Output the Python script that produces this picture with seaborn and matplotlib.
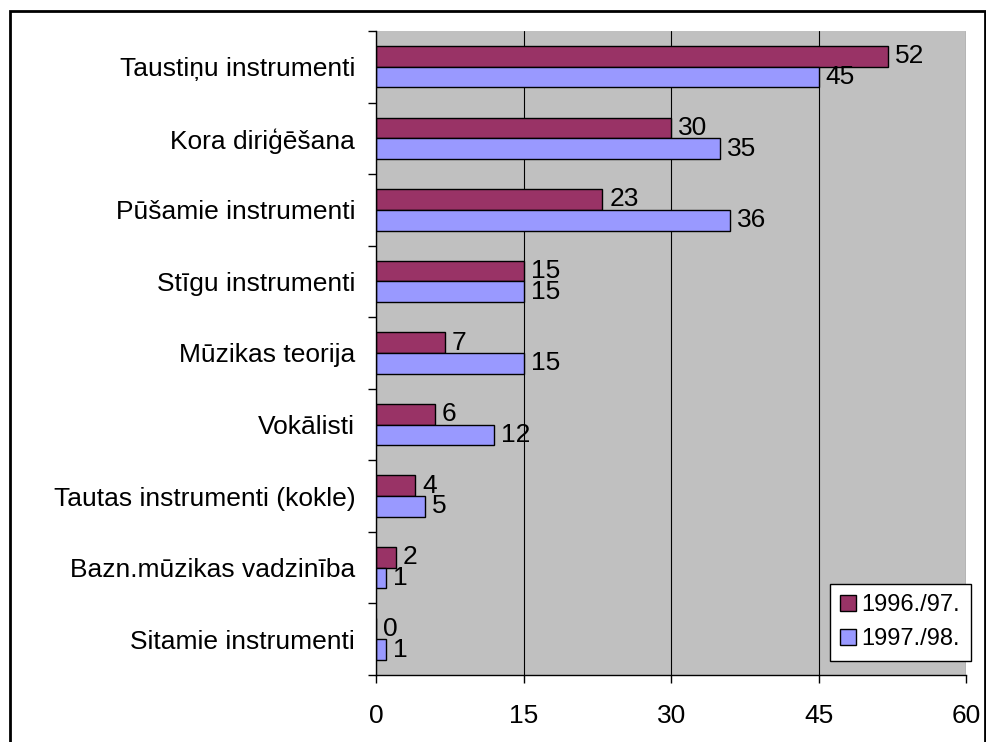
import pandas as pd
import matplotlib.pyplot as plt
import seaborn as sns
from matplotlib.patches import Rectangle
from matplotlib.ticker import FixedLocator

categories = [
    "Taustiņu instrumenti",
    "Kora diriģēšana",
    "Pūšamie instrumenti",
    "Stīgu instrumenti",
    "Mūzikas teorija",
    "Vokālisti",
    "Tautas instrumenti (kokle)",
    "Bazn.mūzikas vadzinība",
    "Sitamie instrumenti",
]
years = ["1996./97.", "1997./98."]
vals_9697 = [52, 30, 23, 15, 7, 6, 4, 2, 0]
vals_9798 = [45, 35, 36, 15, 15, 12, 5, 1, 1]
x_ticks = [0, 15, 30, 45, 60]

df = pd.DataFrame({
    "Category": categories * 2,
    "Year": [years[0]] * len(categories) + [years[1]] * len(categories),
    "Count": vals_9697 + vals_9798,
})

sns.set_style("white")
plt.rcParams["font.family"] = ["Liberation Sans", "DejaVu Sans"]
plt.rcParams["text.color"] = "black"
plt.rcParams["xtick.color"] = "black"
plt.rcParams["ytick.color"] = "black"

fig = plt.figure(figsize=(9.87, 7.42), dpi=100)
ax = fig.add_axes([0.381, 0.0903, 0.598, 0.868])
ax.set_facecolor("#C0C0C0")

sns.barplot(
    data=df, y="Category", x="Count", hue="Year", orient="h",
    palette=["#993366", "#9999FF"], saturation=1, edgecolor="black",
    linewidth=1, width=0.58, ax=ax, legend=True,
)

for cont in ax.containers:
    ax.bar_label(cont, fontsize=19, padding=5)

ax.set_xlim(0, 60)
ax.set_ylim(len(categories) - 0.5, -0.5)
ax.set_xticks(x_ticks)
ax.xaxis.grid(True, color="black", linewidth=0.8)
ax.set_axisbelow(True)
ax.tick_params(axis="x", direction="out", length=6, width=1, color="black",
               pad=15, labelsize=19, bottom=True)

# tick marks between categories, labels in the middle
ax.yaxis.set_major_locator(FixedLocator([i - 0.5 for i in range(len(categories) + 1)]))
ax.yaxis.set_minor_locator(FixedLocator(list(range(len(categories)))))
ax.set_yticklabels([], minor=False)
ax.set_yticklabels(categories, minor=True)
ax.tick_params(axis="y", which="major", direction="out", length=6, width=1,
               color="black", left=True)
ax.tick_params(axis="y", which="minor", length=0, pad=15, labelsize=19, left=True)

ax.set_xlabel("")
ax.set_ylabel("")
for side in ["top", "right"]:
    ax.spines[side].set_visible(False)
for side in ["left", "bottom"]:
    ax.spines[side].set_color("black")
    ax.spines[side].set_linewidth(1)

leg = ax.legend(loc="lower right", bbox_to_anchor=(1.008, 0.022), fontsize=17,
                frameon=True, fancybox=False, edgecolor="black", framealpha=1,
                handlelength=0.65, handleheight=0.65, handletextpad=0.25,
                borderpad=0.45, labelspacing=0.5, borderaxespad=0)
leg.get_frame().set_linewidth(1)

fig.patches.append(Rectangle((10 / 987, -0.01), 975 / 987, 1 - 11 / 742 + 0.01,
                             transform=fig.transFigure, fill=False,
                             edgecolor="black", linewidth=2))

fig.savefig("out.png", dpi=100)
